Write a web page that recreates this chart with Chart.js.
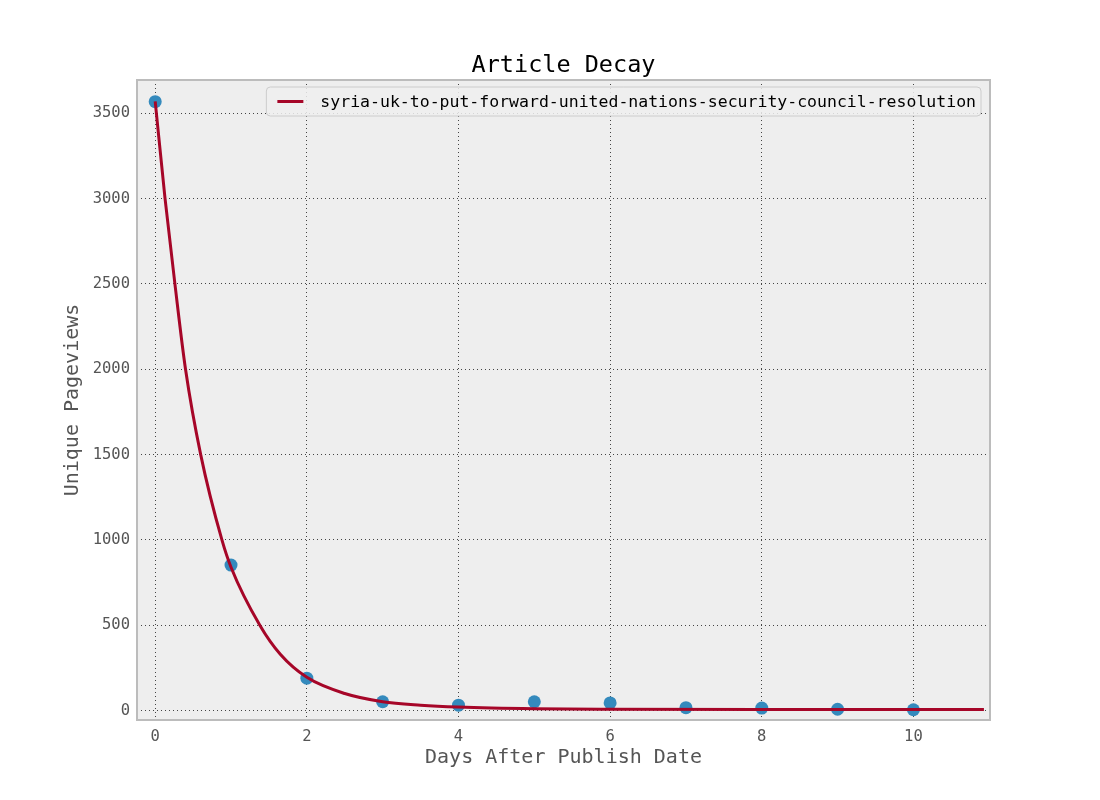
<!DOCTYPE html>
<html>
<head>
<meta charset="utf-8">
<title>Article Decay</title>
<script src="https://cdn.jsdelivr.net/npm/chart.js@4"></script>
<style>
    html, body { margin: 0; padding: 0; background: #ffffff; }
    #wrap { width: 1100px; height: 800px; }
</style>
</head>
<body>
<div id="wrap"><canvas id="decayChart"></canvas></div>
<script>
const chartTitle = "Article Decay";
const articleName = "syria-uk-to-put-forward-united-nations-security-council-resolution";

// observed pageviews per day
const days = [0, 1, 2, 3, 4, 5, 6, 7, 8, 9, 10];
const pageviews = [3568, 853, 190, 52, 32, 52, 45, 17, 15, 8, 5];

// fitted decay curve
const fitDays = [0, 0.13, 0.26, 0.40, 0.60, 0.88, 1.0, 1.38, 1.65, 2.0, 2.5, 3.0, 3.5, 4.0, 5.0, 6.0, 8.0, 10.93];
const fitViews = [3570, 3000, 2500, 2000, 1500, 1000, 840, 500, 330, 195, 100, 52, 32, 21, 11, 8, 7, 7];

const xTicks = [0, 2, 4, 6, 8, 10];
const yTicks = [0, 500, 1000, 1500, 2000, 2500, 3000, 3500];

const FONT = "'DejaVu Sans Mono', monospace";

// grey panel, frame, title and boxed legend like matplotlib's bmh style
const panelPlugin = {
    id: "panel",
    beforeDraw(chart) {
        const { ctx, chartArea: a } = chart;
        ctx.save();
        ctx.fillStyle = "#eeeeee";
        ctx.fillRect(a.left, a.top, a.right - a.left, a.bottom - a.top);
        ctx.restore();
    },
    beforeDatasetsDraw(chart) {
        const { ctx, chartArea: a } = chart;
        ctx.save();
        ctx.strokeStyle = "#bcbcbc";
        ctx.lineWidth = 2;
        ctx.strokeRect(a.left, a.top, a.right - a.left, a.bottom - a.top);
        ctx.restore();
    },
    afterDatasetsDraw(chart) {
        const { ctx, chartArea: a } = chart;
        ctx.save();

        // title centred over the axes
        ctx.font = "23.5px " + FONT;
        ctx.fillStyle = "#000000";
        ctx.textAlign = "center";
        ctx.textBaseline = "alphabetic";
        ctx.fillText(chartTitle, (a.left + a.right) / 2, a.top - 8);

        // legend
        ctx.textAlign = "left";
        ctx.font = "16.5px " + FONT;
        const tw = ctx.measureText(articleName).width;
        const right = a.right - 9;
        const top = a.top + 7;
        const textX = right - 5 - tw;
        const left = textX - 54;
        const h = 29;
        ctx.beginPath();
        ctx.roundRect(left, top, right - left, h, 4);
        ctx.fillStyle = "rgba(238,238,238,0.85)";
        ctx.fill();
        ctx.strokeStyle = "#cccccc";
        ctx.lineWidth = 1;
        ctx.stroke();
        ctx.beginPath();
        ctx.moveTo(textX - 43, top + h / 2);
        ctx.lineTo(textX - 17, top + h / 2);
        ctx.strokeStyle = "#A60628";
        ctx.lineWidth = 3;
        ctx.stroke();
        ctx.fillStyle = "#000000";
        ctx.textBaseline = "middle";
        ctx.fillText(articleName, textX, top + h / 2 + 1);
        ctx.restore();
    }
};

const ctx = document.getElementById("decayChart").getContext("2d");

new Chart(ctx, {
    type: "scatter",
    data: {
        datasets: [
            {
                type: "line",
                label: articleName,
                data: fitDays.map((d, i) => ({ x: d, y: fitViews[i] })),
                borderColor: "#A60628",
                borderWidth: 3,
                pointRadius: 0,
                cubicInterpolationMode: "monotone",
                fill: false,
                order: 0
            },
            {
                label: "pageviews",
                data: days.map((d, i) => ({ x: d, y: pageviews[i] })),
                backgroundColor: "#348ABD",
                borderWidth: 0,
                pointRadius: 6.5,
                showLine: false,
                order: 1
            }
        ]
    },
    options: {
        responsive: true,
        maintainAspectRatio: false,
        animation: false,
        layout: { padding: { top: 80, right: 110, bottom: 0, left: 0 } },
        plugins: {
            legend: { display: false },
            tooltip: { enabled: false },
            title: { display: false }
        },
        scales: {
            x: {
                type: "linear",
                min: -0.24,
                max: 11.01,
                afterBuildTicks: (scale) => { scale.ticks = xTicks.map(v => ({ value: v })); },
                afterFit: (scale) => { scale.height = 80; },
                ticks: {
                    color: "#555555",
                    font: { family: FONT, size: 15.5 },
                    padding: 8,
                    maxRotation: 0,
                    callback: (v) => String(v)
                },
                grid: {
                    color: "#444444",
                    lineWidth: 1,
                    drawTicks: false
                },
                border: { display: false, dash: [1, 3] },
                title: {
                    display: true,
                    text: "Days After Publish Date",
                    color: "#555555",
                    font: { family: FONT, size: 20 },
                    padding: { top: 0, bottom: 30 }
                }
            },
            y: {
                type: "linear",
                min: -55,
                max: 3695,
                afterBuildTicks: (scale) => { scale.ticks = yTicks.map(v => ({ value: v })); },
                afterFit: (scale) => { scale.width = 137; },
                ticks: {
                    color: "#555555",
                    font: { family: FONT, size: 15.5 },
                    padding: 7,
                    callback: (v) => String(v)
                },
                grid: {
                    color: "#444444",
                    lineWidth: 1,
                    drawTicks: false
                },
                border: { display: false, dash: [1, 3] },
                title: {
                    display: true,
                    text: "Unique Pageviews",
                    color: "#555555",
                    font: { family: FONT, size: 20 },
                    padding: { top: 61, bottom: 0 }
                }
            }
        }
    },
    plugins: [panelPlugin]
});
</script>
</body>
</html>
